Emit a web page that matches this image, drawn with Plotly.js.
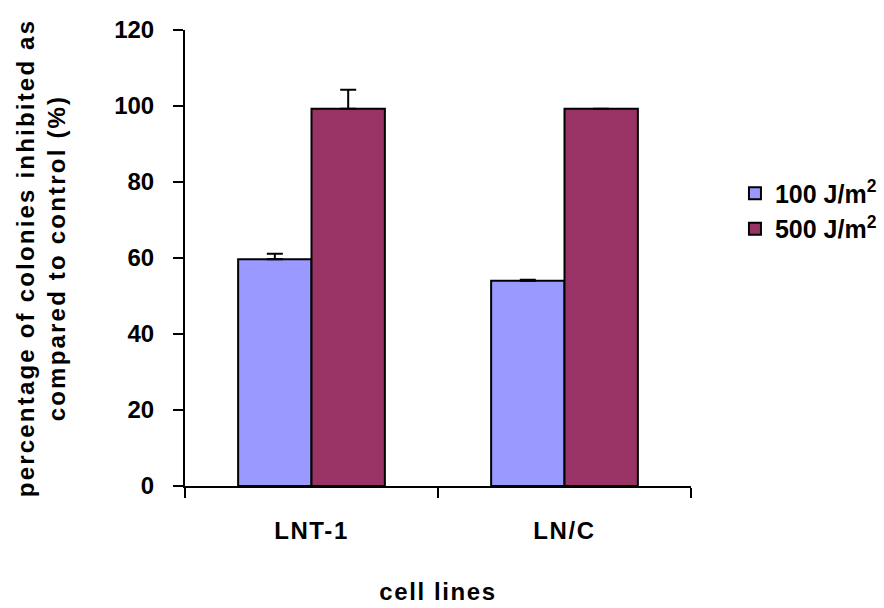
<!DOCTYPE html>
<html>
<head>
<meta charset="utf-8">
<script src="https://cdn.plot.ly/plotly-3.0.1.min.js"></script>
<style>
html,body{margin:0;padding:0;background:#fff;}
#chart{width:884px;height:608px;}
#chart .xtick text, #chart .g-xtitle text{letter-spacing:1.6px;}
#chart .g-ytitle text{letter-spacing:2.2px;}
</style>
</head>
<body>
<div id="chart"></div>
<script>
const categories = ["LNT-1", "LN/C"];
const seriesNames = ["100 J/m<sup>2</sup>", "500 J/m<sup>2</sup>"];
const values100 = [59.7, 54.0];
const errors100 = [1.4, 0.3];
const values500 = [99.3, 99.3];
const errors500 = [5.0, 0];
const yTicks = [0, 20, 40, 60, 80, 100, 120];

const font = "Arial, 'Liberation Sans', sans-serif";
const fs = 24;

const traces = [
  {
    type: "bar", name: seriesNames[0], x: categories, y: values100,
    marker: {color: "#9999FF", line: {color: "#000000", width: 2}},
    error_y: {type: "data", array: errors100, visible: true, symmetric: false, arrayminus: [0,0], color: "#000000", thickness: 2, width: 8}
  },
  {
    type: "bar", name: seriesNames[1], x: categories, y: values500,
    marker: {color: "#993366", line: {color: "#000000", width: 2}},
    error_y: {type: "data", array: errors500, visible: true, symmetric: false, arrayminus: [0,0], color: "#000000", thickness: 2, width: 8}
  }
];

const layout = {
  width: 884, height: 608,
  margin: {l: 185, r: 193, t: 30, b: 122},
  paper_bgcolor: "#ffffff", plot_bgcolor: "#ffffff",
  font: {family: font, size: fs, color: "#000000", weight: "bold"},
  barmode: "group", bargap: 0.42, bargroupgap: 0,
  showlegend: true,
  legend: {xref: "container", yref: "container", x: 0.8314, y: 0.653, xanchor: "left", yanchor: "middle", font: {family: font, size: 25, weight: "bold"}, tracegroupgap: 0},
  xaxis: {
    type: "category", showline: true, linecolor: "#000000", linewidth: 2,
    ticks: "outside", ticklen: 10, tickwidth: 2, tickcolor: "#000000", tickson: "boundaries",
    ticklabelstandoff: 22,
    tickfont: {family: font, size: fs, weight: "bold"},
    showgrid: false, zeroline: false,
    title: {text: "cell lines", font: {family: font, size: fs, weight: "bold"}, standoff: 40}
  },
  yaxis: {
    range: [0, 120], tickvals: yTicks, ticktext: yTicks.map(String),
    showline: true, linecolor: "#000000", linewidth: 2,
    ticks: "outside", ticklen: 10, tickwidth: 2, tickcolor: "#000000",
    ticklabelstandoff: 14,
    tickfont: {family: font, size: fs, weight: "bold"},
    showgrid: false, zeroline: false,
    title: {text: "percentage of colonies inhibited as<br>compared to control (%)", font: {family: font, size: fs, weight: "bold"}, standoff: 42}
  }
};

Plotly.newPlot("chart", traces, layout, {displayModeBar: false, staticPlot: true});
</script>
</body>
</html>
